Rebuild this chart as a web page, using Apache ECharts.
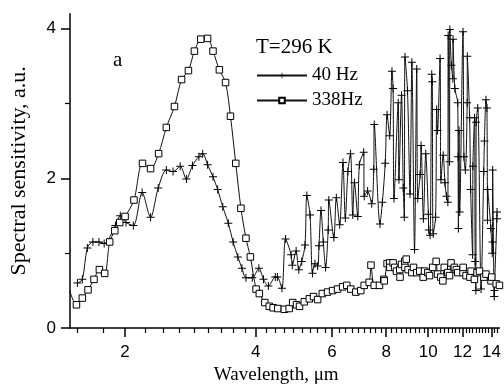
<!DOCTYPE html>
<html><head><meta charset="utf-8">
<script src="https://cdn.jsdelivr.net/npm/echarts@6/dist/echarts.min.js"></script>
<style>html,body{margin:0;padding:0;background:#fff}#c{width:504px;height:390px}</style>
</head><body><div id="c"></div>
<script>
// Wavelength (µm) and spectral sensitivity (a.u.), 40 Hz
const wl40 = [1.553,1.594,1.637,1.686,1.741,1.790,1.900,1.950,2.010,2.090,2.190,2.290,2.385,2.490,2.580,2.680,2.770,2.860,2.960,3.020,3.100,3.190,3.270,3.360,3.460,3.550,3.640,3.720,3.800,3.930,4.070,4.170,4.280,4.440,4.490,4.600,4.690,4.830,4.860,4.960,5.030,5.110,5.200,5.250,5.340,5.410,5.480,5.560,5.600,5.660,5.730,5.800,5.880,5.900,6.060,6.140,6.250,6.360,6.440,6.530,6.620,6.700,6.760,6.880,6.940,7.100,7.120,7.250,7.410,7.490,7.510,7.740,7.840,7.960,8.040,8.150,8.250,8.300,8.340,8.530,8.560,8.680,8.760,8.810,8.840,8.960,9.080,9.170,9.300,9.410,9.460,9.580,9.630,9.750,9.870,10.01,10.03,10.10,10.19,10.22,10.27,10.40,10.46,10.51,10.65,10.70,10.83,10.93,11.02,11.10,11.12,11.20,11.22,11.31,11.40,11.41,11.52,11.70,11.72,11.74,11.78,11.82,12.03,12.09,12.18,12.30,12.31,12.46,12.53,12.66,12.68,12.79,12.83,12.88,12.90,13.01,13.24,13.43,13.48,13.59,13.66,13.70,13.71,13.95,14.05,14.07,14.08,14.20,14.21,14.40,14.41];
const val40 = [0.60,0.65,1.07,1.15,1.15,1.13,1.37,1.50,1.41,1.37,1.81,1.48,1.87,2.11,2.09,2.16,1.99,2.17,2.29,2.33,2.18,2.02,1.85,1.62,1.40,1.15,0.95,0.80,0.67,0.67,0.80,0.65,0.56,0.68,0.68,0.53,1.19,0.98,0.84,1.03,0.78,0.89,1.11,1.77,1.51,0.73,0.86,0.83,1.10,1.57,1.15,0.81,1.31,1.71,1.21,1.74,1.38,2.21,1.47,2.09,2.33,1.51,1.94,1.49,2.18,2.35,1.76,1.83,1.66,2.12,2.72,1.39,1.68,2.20,2.85,2.57,3.43,3.20,1.73,3.01,1.98,3.11,1.87,1.48,3.62,3.17,1.79,3.55,1.05,3.46,1.73,2.05,2.44,1.46,2.33,1.52,1.31,1.24,3.39,3.29,1.26,1.48,2.92,2.64,3.60,1.98,2.31,1.94,1.76,1.68,3.91,2.22,3.99,3.51,3.33,3.86,3.20,3.01,2.29,1.33,2.64,1.55,3.96,2.29,2.11,3.01,3.63,2.81,1.85,0.98,2.16,2.81,0.89,0.50,2.75,2.94,0.52,2.09,2.50,3.05,2.94,1.44,1.85,1.33,1.00,1.15,2.11,0.42,0.50,1.46,1.55];

// 338 Hz
const wl338 = [1.49,1.545,1.594,1.643,1.696,1.745,1.795,1.843,1.894,1.944,2.00,2.097,2.194,2.29,2.39,2.49,2.60,2.70,2.80,2.89,2.99,3.10,3.19,3.30,3.41,3.50,3.60,3.70,3.80,3.89,4.01,4.08,4.20,4.30,4.39,4.50,4.66,4.78,4.87,4.97,5.05,5.18,5.32,5.44,5.56,5.70,5.86,6.02,6.18,6.35,6.49,6.63,6.81,6.99,7.12,7.31,7.38,7.51,7.72,7.90,7.92,8.04,8.15,8.16,8.30,8.37,8.45,8.60,8.61,8.68,8.83,8.84,8.90,8.99,9.17,9.25,9.41,9.56,9.74,9.81,9.98,10.07,10.24,10.43,10.51,10.69,10.81,10.89,11.10,11.20,11.29,11.49,11.61,11.70,12.03,12.04,12.23,12.48,12.56,12.78,12.96,13.13,13.44,13.59,13.96,14.01,14.35,14.60];
const val338 = [0.50,0.31,0.40,0.51,0.65,0.78,0.73,1.15,1.30,1.41,1.49,1.71,2.20,2.13,2.33,2.68,2.96,3.32,3.44,3.70,3.86,3.87,3.70,3.45,3.28,2.83,2.20,1.60,1.20,0.95,0.52,0.46,0.34,0.29,0.27,0.26,0.25,0.26,0.34,0.31,0.29,0.35,0.39,0.42,0.38,0.46,0.48,0.50,0.52,0.55,0.57,0.52,0.48,0.50,0.57,0.61,0.84,0.57,0.57,0.65,0.63,0.86,0.87,0.81,0.87,0.81,0.76,0.78,0.68,0.85,0.89,0.81,0.92,0.78,0.74,0.81,0.74,0.76,0.68,0.76,0.74,0.70,0.81,0.89,0.72,0.68,0.63,0.81,0.74,0.70,0.87,0.81,0.78,0.74,0.74,0.81,0.70,0.68,0.76,0.65,0.74,0.76,0.68,0.72,0.63,0.68,0.59,0.57];

const xTickLabels = [2,4,6,8,10,12,14];
const yTickLabels = [0,2,4];
const yMinorTicks = [1,3];

const L = Math.log10;
const xMin = L(1.493), xMax = L(14.6);
// minor ticks: 8 per major interval (step 2/9)
const xMinor = [];
for (let k = -2; k <= 56; k++) {
  const v = 2 + k * 2 / 9;
  if (k % 9 === 0) continue;
  if (v >= 1.493 && v <= 14.6) xMinor.push(L(v));
}
const plus = 'path://M3.5,0H4.5V3.5H8V4.5H4.5V8H3.5V4.5H0V3.5H3.5Z';
const serif = 'Liberation Serif';
const sans = 'Liberation Sans';

const chart = echarts.init(document.getElementById('c'), null, {renderer: 'canvas'});
chart.setOption({
  animation: false,
  backgroundColor: '#fff',
  title: [
    {text: 'T=296 K', left: 256, top: 37, padding: 0,
     textStyle: {fontFamily: serif, fontSize: 21, fontWeight: 'normal', color: '#000'}},
    {text: 'a', left: 113, top: 50, padding: 0,
     textStyle: {fontFamily: serif, fontSize: 21, fontWeight: 'normal', color: '#000'}}
  ],
  legend: {
    orient: 'vertical', left: 256, top: 66, padding: 0,
    itemWidth: 50, itemHeight: 7, itemGap: 6,
    data: ['40 Hz', '338Hz'],
    textStyle: {fontFamily: serif, fontSize: 19, color: '#000', lineHeight: 19}
  },
  grid: {left: 69, right: 4, top: 13.7, bottom: 55, containLabel: false},
  xAxis: [
    {type: 'value', min: xMin, max: xMax,
     name: 'Wavelength, \u03bcm', nameLocation: 'middle', nameGap: 38,
     nameTextStyle: {fontFamily: serif, fontSize: 19, color: '#000', padding: [0, 17, 0, 0]},
     axisLine: {lineStyle: {color: '#000', width: 1.5}},
     axisTick: {customValues: xTickLabels.map(L), length: 9, lineStyle: {color: '#000', width: 1.5}},
     axisLabel: {customValues: xTickLabels.map(L), margin: 16, fontFamily: sans, fontSize: 17, color: '#000',
       formatter: v => String(Math.round(Math.pow(10, v)))},
     splitLine: {show: false}},
    {type: 'value', min: xMin, max: xMax, position: 'bottom',
     axisLine: {show: false},
     axisTick: {customValues: xMinor, length: 5, lineStyle: {color: '#000', width: 1.2}},
     axisLabel: {show: false}, splitLine: {show: false}}
  ],
  yAxis: [
    {type: 'value', min: 0, max: 4.2,
     name: 'Spectral sensitivity, a.u.', nameLocation: 'middle', nameGap: 40,
     nameTextStyle: {fontFamily: serif, fontSize: 22, color: '#000'},
     axisLine: {show: true, lineStyle: {color: '#000', width: 1.5}},
     axisTick: {show: true, customValues: yTickLabels, length: 9, lineStyle: {color: '#000', width: 1.5}},
     axisLabel: {customValues: yTickLabels, margin: 14, fontFamily: sans, fontSize: 17, color: '#000'},
     splitLine: {show: false}},
    {type: 'value', min: 0, max: 4.2, position: 'left',
     axisLine: {show: false},
     axisTick: {show: true, customValues: yMinorTicks, length: 5, lineStyle: {color: '#000', width: 1.2}},
     axisLabel: {show: false}, splitLine: {show: false}}
  ],
  series: [
    {name: '40 Hz', type: 'line', xAxisIndex: 0, yAxisIndex: 0,
     data: wl40.map((w, i) => [L(w), val40[i]]),
     symbol: plus, symbolSize: 8, showAllSymbol: true, smooth: 0.3,
     lineStyle: {color: '#111', width: 1}, itemStyle: {color: '#000'}},
    {name: '338Hz', type: 'line', xAxisIndex: 0, yAxisIndex: 0,
     data: wl338.map((w, i) => [L(w), val338[i]]),
     symbol: 'rect', symbolSize: 6.5, showAllSymbol: true, smooth: 0.3,
     lineStyle: {color: '#111', width: 1},
     itemStyle: {color: '#fff', borderColor: '#000', borderWidth: 1}}
  ]
});
</script></body></html>
